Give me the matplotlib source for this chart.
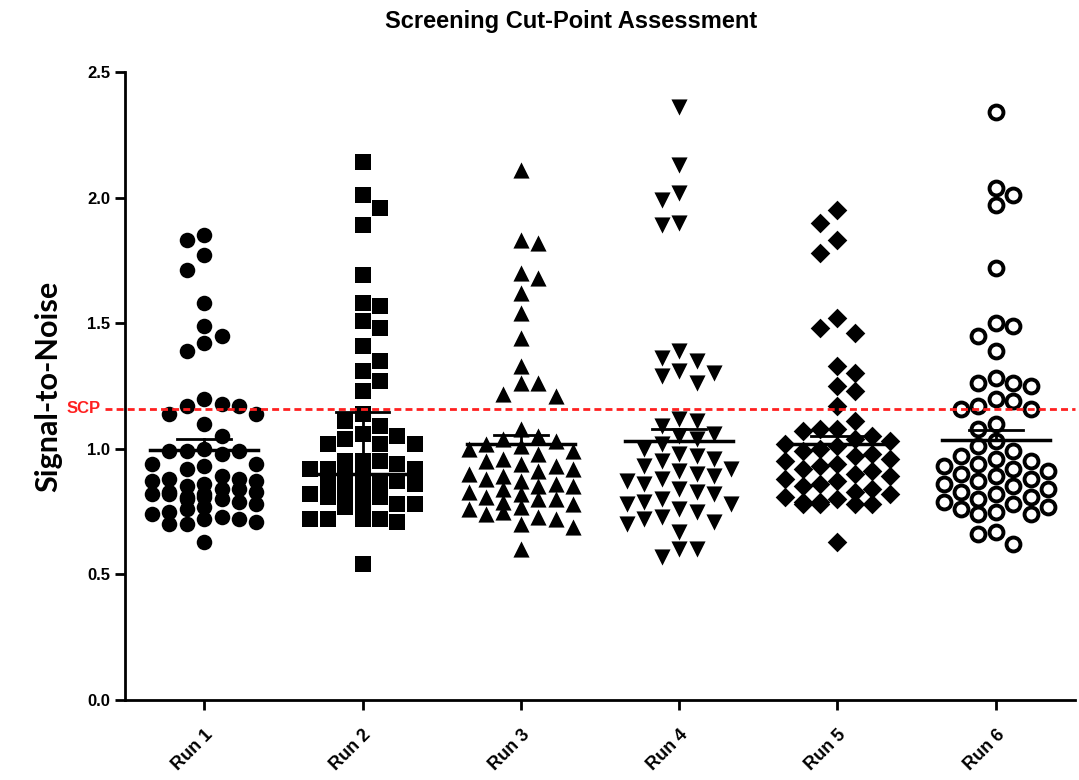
import numpy as np
import matplotlib
matplotlib.use("Agg")
import matplotlib.pyplot as plt
import matplotlib.transforms as mtransforms

runs = ["Run 1", "Run 2", "Run 3", "Run 4", "Run 5", "Run 6"]

run1 = [1.85, 1.83, 1.77, 1.71, 1.58, 1.49, 1.45, 1.42, 1.39,
        1.18, 1.20, 1.17, 1.17, 1.14, 1.14, 1.10, 1.05,
        1.00, 0.99, 0.99, 0.99, 0.98, 0.94, 0.92, 0.94, 0.93,
        0.88, 0.87, 0.87, 0.88, 0.89, 0.86, 0.85,
        0.84, 0.83, 0.82, 0.81, 0.80, 0.83, 0.82, 0.81, 0.80, 0.84, 0.82, 0.79,
        0.78, 0.77, 0.76, 0.74, 0.72, 0.70, 0.73, 0.72, 0.70, 0.75, 0.71, 0.63]
run2 = [2.14, 2.01, 1.96, 1.89, 1.69, 1.57, 1.58, 1.51, 1.48, 1.41, 1.35, 1.31,
        1.27, 1.23, 1.14, 1.11, 1.09, 1.06, 1.04, 1.02, 1.02, 1.05, 1.02,
        0.95, 0.95, 0.94, 0.95, 0.92, 0.92, 0.91, 0.92, 0.91, 0.92,
        0.87, 0.87, 0.86, 0.87, 0.87, 0.86, 0.82, 0.81, 0.82, 0.81, 0.82,
        0.78, 0.77, 0.78, 0.77, 0.72, 0.72, 0.71, 0.72, 0.72, 0.54]
run3 = [2.11, 1.83, 1.82, 1.70, 1.68, 1.62, 1.54, 1.44, 1.33, 1.26, 1.26, 1.21, 1.22,
        1.08, 1.05, 1.04, 1.03, 1.02, 1.01, 1.00, 0.99, 0.98, 0.96, 0.95, 0.94,
        0.93, 0.92, 0.91, 0.90, 0.89, 0.88, 0.87, 0.86, 0.85, 0.85, 0.84, 0.83,
        0.82, 0.81, 0.80, 0.80, 0.79, 0.78, 0.77, 0.76, 0.75, 0.74, 0.73, 0.72,
        0.70, 0.69, 0.60]
run4 = [2.36, 2.13, 2.02, 1.99, 1.90, 1.89, 1.39, 1.36, 1.35, 1.31, 1.30, 1.29, 1.26,
        1.12, 1.11, 1.09, 1.06, 1.05, 1.04, 1.02, 1.00, 0.98, 0.97, 0.96, 0.95,
        0.93, 0.92, 0.91, 0.90, 0.89, 0.88, 0.87, 0.86, 0.84, 0.83, 0.82, 0.80,
        0.79, 0.78, 0.78, 0.76, 0.75, 0.73, 0.72, 0.71, 0.70, 0.67, 0.60, 0.60, 0.57]
run5 = [1.95, 1.90, 1.83, 1.78, 1.52, 1.46, 1.48, 1.33, 1.30, 1.23, 1.25, 1.17,
        1.11, 1.08, 1.07, 1.08,
        1.05, 1.04, 1.03, 1.02, 1.01, 1.00, 0.99, 0.98, 0.97, 0.96, 0.95, 0.94,
        0.93, 0.92, 0.91, 0.90, 0.89, 0.88, 0.87, 0.86, 0.85, 0.84, 0.83, 0.82,
        0.81, 0.80, 0.79, 0.78, 0.78, 0.78, 0.78, 0.79, 0.63]
run6 = [2.34, 2.04, 2.01, 1.97, 1.72, 1.50, 1.49, 1.45, 1.39, 1.28, 1.26, 1.25,
        1.26, 1.20, 1.19, 1.16, 1.16, 1.17, 1.10, 1.08,
        1.03, 1.01, 0.99, 0.97, 0.96, 0.95, 0.94, 0.93, 0.92, 0.91, 0.90, 0.89,
        0.88, 0.87, 0.86, 0.85, 0.84, 0.83, 0.82, 0.81, 0.80, 0.79, 0.78, 0.77,
        0.76, 0.75, 0.74, 0.74, 0.67, 0.66, 0.62]

# mean line and upper error bar for each run
centers = [0.995, 0.90, 1.02, 1.03, 1.02, 1.035]
errs = [0.045, 0.245, 0.035, 0.05, 0.03, 0.04]

scp = 1.16

markers = ["o", "s", "^", "v", "D", "o"]
msizes = [125, 125, 135, 135, 100, 100]


def swarm_x(vals, center, step=0.11, gaps=(0.066, 0.04), max_slot=3):
    # spread points over vertical slots around the run position:
    # full spacing where there is room, tighter overlap in the crowded band
    vals = np.asarray(vals)
    xs = np.zeros(len(vals))
    placed = []
    for n, i in enumerate(np.argsort(vals)[::-1]):
        y = vals[i]
        slot = None
        for h in gaps:
            for k in range(max_slot + 1):
                cands = [0] if k == 0 else ([-k, k] if n % 2 else [k, -k])
                for s in cands:
                    if all(not (ps == s and abs(py - y) < h) for ps, py in placed):
                        slot = s
                        break
                if slot is not None:
                    break
            if slot is not None:
                break
        if slot is None:
            slot = min(range(-max_slot + 1, max_slot),
                       key=lambda s: sum(1 for ps, py in placed if ps == s and abs(py - y) < gaps[-1]))
        placed.append((slot, y))
        xs[i] = center + slot * step
    return xs


plt.rcParams["font.family"] = ["Liberation Sans", "DejaVu Sans"]
fig = plt.figure(figsize=(10.79, 7.80), dpi=100)
ax = fig.add_axes([125 / 1079, 80 / 780, 950 / 1079, 628 / 780])

data = [run1, run2, run3, run4, run5, run6]
for i, vals in enumerate(data):
    pos = i + 1
    xs = swarm_x(vals, pos)
    if i == 5:
        ax.scatter(xs, vals, s=msizes[i], marker=markers[i], facecolors="white",
                   edgecolors="black", linewidths=2.8, zorder=3)
    else:
        ax.scatter(xs, vals, s=msizes[i], marker=markers[i], color="black",
                   linewidths=0, zorder=3)
    # mean line with upper error bar
    top = centers[i] + errs[i]
    ax.plot([pos - 0.34, pos + 0.34], [centers[i], centers[i]], color="black", lw=2.5, zorder=4)
    ax.plot([pos, pos], [centers[i], top], color="black", lw=2, zorder=4)
    ax.plot([pos - 0.17, pos + 0.17], [top, top], color="black", lw=2, zorder=4)

# screening cut point
trans = mtransforms.blended_transform_factory(ax.transAxes, ax.transData)
ax.plot([-0.021, 1.0], [scp, scp], color="#ff2020", lw=2, ls=(0, (2.5, 1.5)),
        transform=trans, clip_on=False, zorder=5)
ax.text(-0.026, scp, "SCP", color="#ff2020", fontsize=12, fontweight="bold",
        ha="right", va="center", transform=trans)

ax.set_xlim(0.5, 6.5)
ax.set_ylim(0, 2.5)
ax.set_yticks(np.arange(0, 2.51, 0.5))
ax.set_yticklabels([f"{v:.1f}" for v in np.arange(0, 2.51, 0.5)])
ax.set_xticks(range(1, 7))
ax.set_xticklabels(runs, rotation=45, ha="right", rotation_mode="anchor")

for side in ("top", "right"):
    ax.spines[side].set_visible(False)
for side in ("left", "bottom"):
    ax.spines[side].set_linewidth(2)
ax.tick_params(axis="both", direction="out", length=7, width=2, labelsize=12)
ax.tick_params(axis="x", labelsize=13, pad=12)
for lab in ax.get_xticklabels() + ax.get_yticklabels():
    lab.set_fontweight("bold")

ax.set_ylabel("Signal-to-Noise", fontsize=22, fontweight="bold",
              family=["Lato", "DejaVu Sans"], labelpad=18)
fig.text(0.529, 0.972, "Screening Cut-Point Assessment", ha="center", va="center",
         fontsize=17, fontweight="bold")

fig.savefig("out.png", dpi=100)
